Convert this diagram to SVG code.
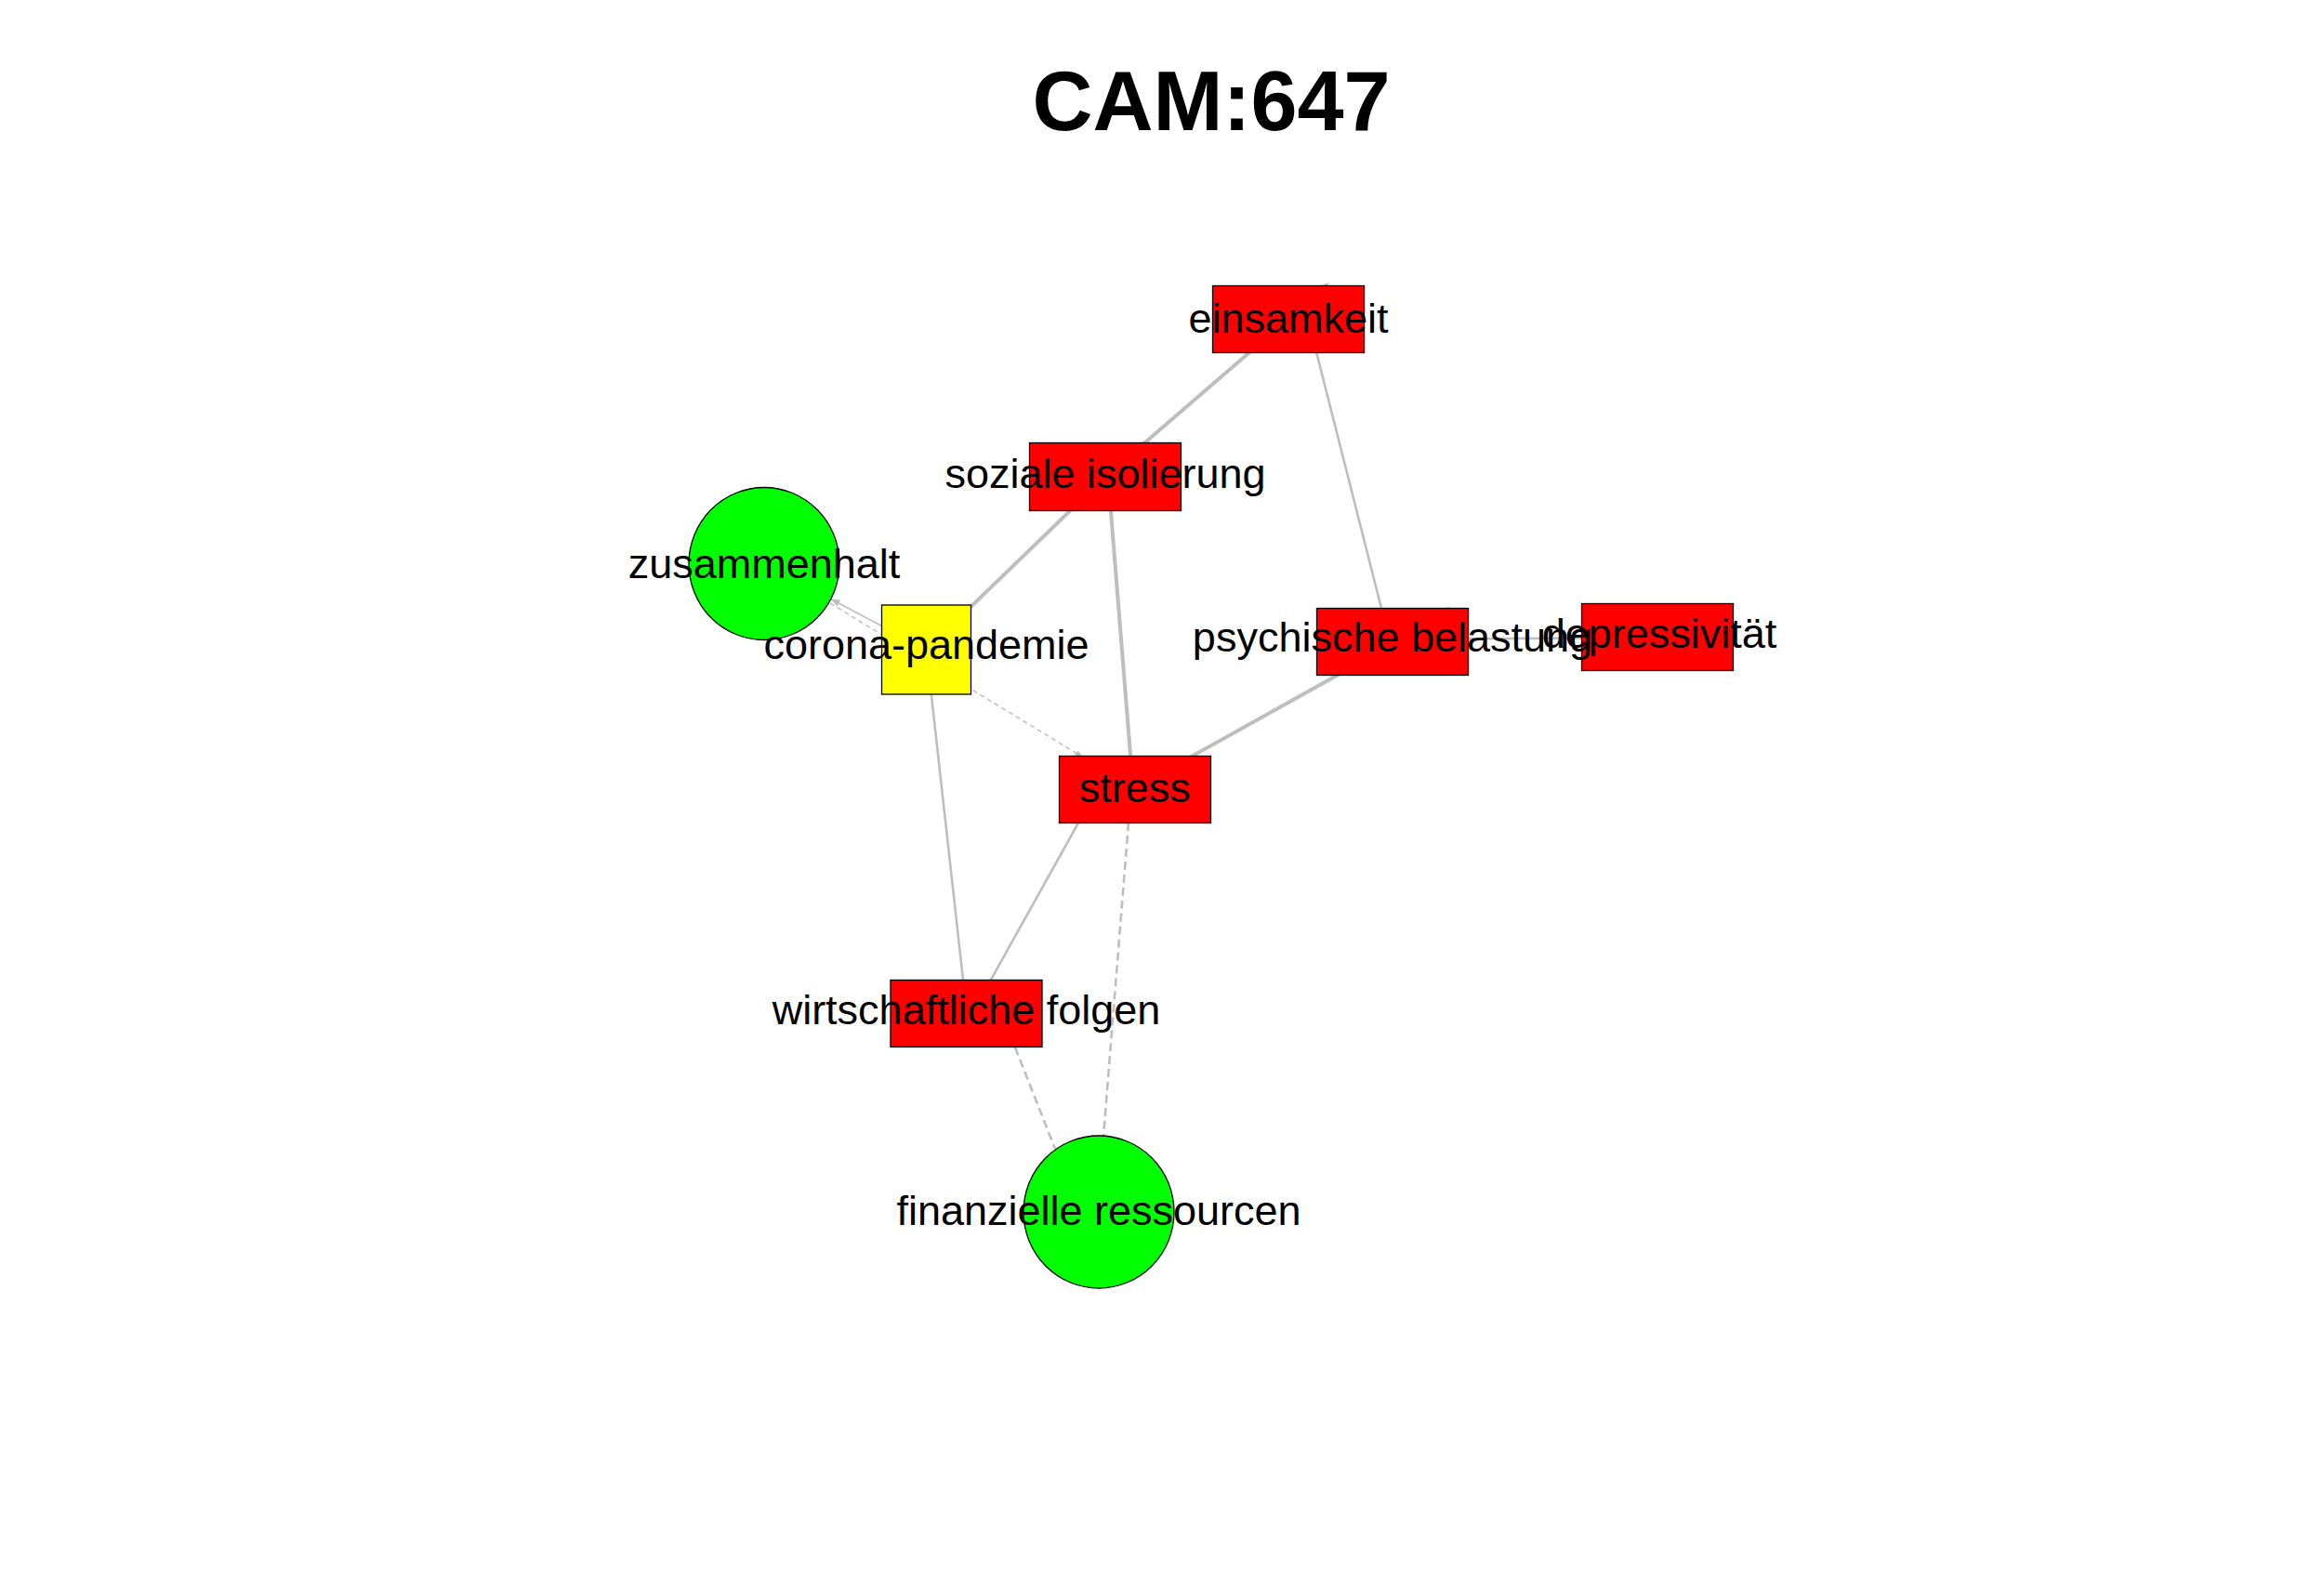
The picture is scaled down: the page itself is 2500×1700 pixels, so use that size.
<svg xmlns="http://www.w3.org/2000/svg" width="2500" height="1700" viewBox="0 0 2500 1700">
<style>
.bg{fill:#ffffff}
.title{font-family:"Liberation Sans",Arial,sans-serif;font-weight:bold;font-size:90px;fill:#000;text-anchor:middle}
.lbl{font-family:"Liberation Sans",Arial,sans-serif;font-size:45px;fill:#000;text-anchor:middle}
.red{fill:#ff0000;stroke:#000;stroke-width:1.3}
.yel{fill:#ffff00;stroke:#000;stroke-width:1.3}
.grn{fill:#00ff00;stroke:#000;stroke-width:1.3}
.e{stroke:#bebebe;fill:none;stroke-linecap:butt}
.w4{stroke-width:4}
.w25{stroke-width:2.6}
.w15{stroke-width:1.5}
.d1{stroke-dasharray:5 4}
.d2{stroke-dasharray:9 5}
.ah{fill:#bebebe;stroke:none}
</style>
<rect class="bg" x="0" y="0" width="2500" height="1700"/>
<text class="title" x="1303" y="140">CAM:647</text>
<g id="connectors">
  <line class="e w4" x1="1386" y1="343" x2="1189" y2="513"/>
  <line class="e w25" x1="1407" y1="343" x2="1495" y2="690"/>
  <line class="e w4" x1="1189" y1="513" x2="996.5" y2="699"/>
  <line class="e w4" x1="1192" y1="513" x2="1219" y2="849.5"/>
  <line class="e w15" x1="822" y1="606.5" x2="996.5" y2="699"/>
  <line class="e w15 d1" x1="893" y1="649" x2="1162" y2="813"/>
  <line class="e w25" x1="996.5" y1="699" x2="1040" y2="1090"/>
  <line class="e w4" x1="1218" y1="849.5" x2="1504" y2="690"/>
  <line class="e w25" x1="1498" y1="688" x2="1783" y2="686"/>
  <line class="e w25" x1="1180" y1="849.5" x2="1046" y2="1090"/>
  <line class="e w25 d2" x1="1214" y1="885" x2="1187" y2="1223"/>
  <line class="e w25 d2" x1="1092" y1="1127" x2="1135" y2="1236"/>
  <polygon class="ah" points="1430,304 1424.7,313.4 1419.7,307.2"/>
  <polygon class="ah" points="1229,475 1224.4,484.7 1219,478.9"/>
  <polygon class="ah" points="1560,653 1553.6,661.7 1549.4,654.9"/>
  <polygon class="ah" points="1166,816 1155.4,814.2 1159.6,807.4"/>
  <polygon class="ah" points="893.6,644.4 904.3,645.6 900.5,652.6"/>
</g>
<g id="node-einsamkeit">
  <rect class="red" x="1304.5" y="307.5" width="163" height="72"/>
  <text class="lbl" x="1386" y="357.7">einsamkeit</text>
</g>
<g id="node-soziale-isolierung">
  <rect class="red" x="1107.5" y="476.5" width="163" height="73"/>
  <text class="lbl" x="1189" y="525">soziale isolierung</text>
</g>
<g id="node-zusammenhalt">
  <ellipse class="grn" cx="822" cy="606.5" rx="81" ry="82"/>
  <text class="lbl" x="822" y="621.7">zusammenhalt</text>
</g>
<g id="node-corona-pandemie">
  <rect class="yel" x="948.5" y="651" width="96" height="96"/>
  <text class="lbl" x="996.5" y="709">corona-pandemie</text>
</g>
<g id="node-depressivitaet">
  <rect class="red" x="1701.5" y="649.5" width="163" height="72"/>
  <text class="lbl" x="1785" y="697">depressivität</text>
</g>
<g id="node-psychische-belastung">
  <rect class="red" x="1416.5" y="654.5" width="163" height="72"/>
  <text class="lbl" x="1498" y="701">psychische belastung</text>
</g>
<g id="node-stress">
  <rect class="red" x="1139.5" y="813.5" width="163" height="72"/>
  <text class="lbl" x="1220.7" y="863.3">stress</text>
</g>
<g id="node-wirtschaftliche-folgen">
  <rect class="red" x="958" y="1054.5" width="163" height="72"/>
  <text class="lbl" x="1039.5" y="1101.7">wirtschaftliche folgen</text>
</g>
<g id="node-finanzielle-ressourcen">
  <ellipse class="grn" cx="1182" cy="1304" rx="81" ry="82"/>
  <text class="lbl" x="1182" y="1318.3">finanzielle ressourcen</text>
</g>
</svg>
